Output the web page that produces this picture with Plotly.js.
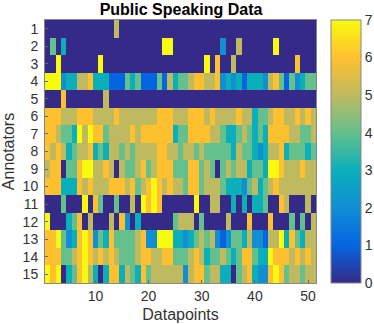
<!DOCTYPE html>
<html>
<head>
<meta charset="utf-8">
<script src="https://cdn.plot.ly/plotly-3.0.1.min.js"></script>
<style>
  html, body { margin: 0; padding: 0; background: #fff; }
</style>
</head>
<body>
<div id="plot" style="width:374px;height:324px;"></div>
<script>
const annotators = [1, 2, 3, 4, 5, 6, 7, 8, 9, 10, 11, 12, 13, 14, 15];
const datapoints = Array.from({ length: 51 }, (_, i) => i + 1);
const datapointTicks = [10, 20, 30, 40, 50];
const colorTicks = [0, 1, 2, 3, 4, 5, 6, 7];

// scores, one list per annotator
const annotator1 = [0,0,0,0,0,0,0,0,0,0, 0,0,0,5,0,0,0,0,0,0, 0,0,0,0,0,0,0,0,0,0, 0,0,0,0,0,0,0,0,0,0, 0,0,0,0,0,0,0,0,0,0,0];
const annotator2 = [0,4,0,3,0,0,0,0,0,0, 0,0,0,0,0,0,0,0,0,0, 0,0,7,7,0,0,0,0,0,0, 0,0,0,2,0,0,5,0,0,0, 0,0,0,7,0,0,0,0,0,0,0];
const annotator3 = [0,0,7,0,0,0,0,0,0,0, 7,0,0,0,0,0,0,0,0,0, 0,0,0,0,0,0,0,0,0,0, 7,0,6,0,0,5,0,0,0,0, 0,0,0,0,0,0,0,6,0,0,0];
const annotator4 = [7,7,7,2,3,3,5,5,6,3, 3,3,1,1,1,4,3,4,1,1, 1,4,1,5,3,4,4,5,6,6, 5,5,6,2,3,2,3,1,3,3, 3,2,5,6,4,1,4,2,3,4,4];
const annotator5 = [0,0,0,6,0,0,0,0,0,0, 0,5,0,0,0,0,0,0,0,0, 0,0,0,0,0,0,0,0,0,0, 0,0,0,0,0,0,0,0,0,0, 0,0,0,0,0,0,0,0,0,0,0];
const annotator6 = [6,6,6,5,5,5,6,6,6,5, 5,5,5,6,5,5,5,5,5,5, 5,6,6,6,5,5,5,6,6,6, 5,6,5,5,5,5,6,5,5,3, 4,4,5,6,6,5,5,6,5,6,5];
const annotator7 = [6,6,5,4,4,3,7,5,7,6, 6,4,5,5,5,5,6,5,6,6, 6,6,6,6,3,4,4,6,6,6, 6,5,5,4,3,3,4,5,4,3, 4,3,6,6,6,6,5,5,4,4,5];
const annotator8 = [6,5,6,5,3,4,5,5,6,3, 4,3,5,5,4,5,4,5,5,5, 5,6,6,5,5,4,5,5,4,5, 4,4,4,4,4,3,5,4,4,3, 2,3,5,5,6,3,4,4,4,3,4];
const annotator9 = [5,6,6,0,4,4,6,7,7,5, 5,6,5,0,5,4,4,5,6,4, 5,6,6,6,4,4,4,6,6,4, 5,4,0,4,5,4,5,5,3,4, 4,3,7,7,6,5,5,5,6,5,5];
const annotator10 = [6,6,6,3,3,3,6,5,6,5, 5,5,6,6,6,5,6,4,5,6, 7,6,5,6,5,5,4,6,6,4, 5,5,5,4,3,3,3,2,4,5, 3,4,5,6,5,5,5,5,5,5,5];
const annotator11 = [0,0,0,4,0,0,0,7,0,6, 4,0,0,4,0,0,5,0,7,6, 7,6,0,0,0,0,0,0,7,0, 0,5,5,0,0,3,0,3,0,3, 3,4,0,0,6,5,0,0,0,5,0];
const annotator12 = [7,0,0,0,3,4,6,0,5,0, 0,0,5,0,6,2,0,3,0,0, 0,0,0,0,4,5,5,5,0,4, 0,0,0,0,5,0,0,0,6,0, 0,0,6,0,0,0,4,0,4,0,5];
const annotator13 = [6,6,7,4,2,3,6,7,6,2, 4,3,6,4,4,4,4,5,6,2, 2,7,7,7,3,3,2,3,4,5, 4,5,2,1,2,4,4,3,5,2, 2,1,5,5,7,3,6,4,3,5,5];
const annotator14 = [6,6,6,4,4,5,6,7,6,5, 6,5,6,5,4,4,4,5,6,6, 5,5,6,6,4,4,4,5,6,5, 3,4,4,5,4,3,4,6,6,4, 3,3,7,6,6,6,5,6,5,6,5];
const annotator15 = [7,6,7,0,3,4,6,7,5,3, 0,3,6,6,3,5,4,3,6,4, 5,5,5,5,5,5,2,5,6,6, 4,5,5,3,3,0,4,5,6,3, 2,2,6,7,6,4,5,5,4,5,5];

const scores = [annotator1, annotator2, annotator3, annotator4, annotator5,
  annotator6, annotator7, annotator8, annotator9, annotator10,
  annotator11, annotator12, annotator13, annotator14, annotator15];

const parula = [
  [0, "#352a87"],
  [1 / 7, "#0565e1"],
  [2 / 7, "#128ed3"],
  [3 / 7, "#0bafba"],
  [4 / 7, "#64c08c"],
  [5 / 7, "#bfba60"],
  [6 / 7, "#ffc030"],
  [1, "#f9fb0e"],
];

const trace = {
  type: "heatmap",
  x: datapoints,
  y: annotators,
  z: scores,
  zmin: 0,
  zmax: 7,
  colorscale: parula,
  colorbar: {
    thickness: 30,
    thicknessmode: "pixels",
    len: 1,
    lenmode: "fraction",
    x: 286 / 329,
    xanchor: "left",
    xpad: 0,
    y: 0.5,
    yanchor: "middle",
    ypad: 0,
    outlinecolor: "#888888",
    outlinewidth: 1,
    tickmode: "array",
    tickvals: colorTicks,
    ticks: "",
    tickfont: { size: 14, color: "#333333" },
  },
};

const layout = {
  width: 374,
  height: 324,
  margin: { l: 45, r: 0, t: 19.5, b: 41, pad: 0 },
  paper_bgcolor: "#ffffff",
  font: { family: "Liberation Sans, Helvetica, Arial, sans-serif", color: "#333333" },
  title: {
    text: "<b>Public Speaking Data</b>",
    font: { size: 16, color: "#000000" },
    x: 181 / 374,
    xanchor: "center",
    y: 0.972,
    yanchor: "middle",
  },
  xaxis: {
    domain: [0, 271 / 329],
    title: { text: "Datapoints", font: { size: 16, color: "#333333" }, standoff: 6 },
    range: [0.5, 51.5],
    tickmode: "array",
    tickvals: datapointTicks,
    ticks: "inside",
    ticklen: 3,
    tickcolor: "#666666",
    tickfont: { size: 14, color: "#333333" },
    showline: true,
    mirror: true,
    linecolor: "#888888",
    linewidth: 1,
    showgrid: false,
    zeroline: false,
  },
  yaxis: {
    title: { text: "Annotators", font: { size: 16, color: "#333333" }, standoff: 8 },
    range: [15.5, 0.5],
    tickmode: "array",
    tickvals: annotators,
    ticks: "inside",
    ticklen: 3,
    tickcolor: "#666666",
    tickfont: { size: 14, color: "#333333" },
    ticklabelstandoff: 3,
    showline: true,
    mirror: true,
    linecolor: "#888888",
    linewidth: 1,
    showgrid: false,
    zeroline: false,
  },
};

Plotly.newPlot("plot", [trace], layout, { displayModeBar: false, staticPlot: true });
</script>
</body>
</html>
